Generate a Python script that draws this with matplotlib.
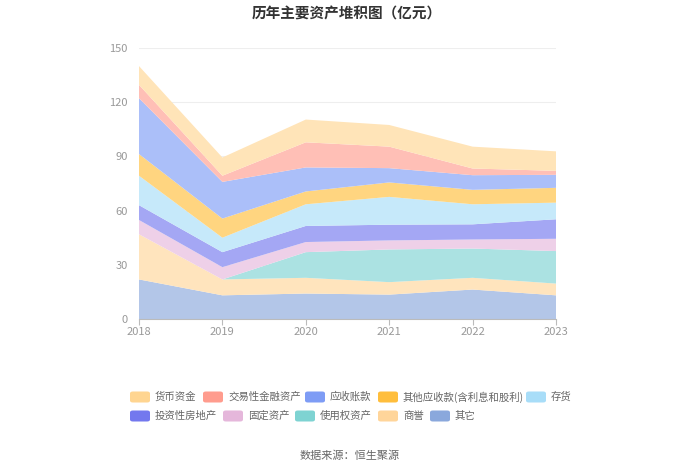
import matplotlib
matplotlib.use("Agg")
import matplotlib.pyplot as plt
from matplotlib.colors import to_rgb
from matplotlib.patches import FancyBboxPatch
import numpy as np

plt.rcParams['font.family'] = ['Noto Sans CJK SC', 'DejaVu Sans']

years = ['2018', '2019', '2020', '2021', '2022', '2023']

# values in 亿元, bottom of the stack first
qita = [21.9, 13.1, 14.1, 13.5, 16.3, 13.1]            # 其它
shangyu = [25.0, 8.8, 8.7, 6.9, 6.5, 6.5]              # 商誉
shiyongquan = [0.0, 0.0, 14.2, 18.1, 16.2, 18.0]       # 使用权资产
guding = [7.9, 6.8, 5.6, 5.0, 5.0, 6.8]                # 固定资产
touzi_fdc = [8.2, 8.3, 8.9, 8.7, 8.4, 10.8]            # 投资性房地产
cunhuo = [16.3, 8.0, 12.0, 15.4, 11.1, 9.2]            # 存货
qita_ys = [12.0, 10.6, 7.1, 8.0, 8.0, 8.2]             # 其他应收款(含利息和股利)
yingshou = [30.9, 20.3, 13.3, 7.9, 8.1, 7.2]           # 应收账款
jiaoyi = [7.4, 3.4, 13.9, 11.9, 3.7, 2.2]              # 交易性金融资产
huobi = [10.4, 10.1, 12.6, 12.0, 12.1, 10.8]           # 货币资金

series = [qita, shangyu, shiyongquan, guding, touzi_fdc,
          cunhuo, qita_ys, yingshou, jiaoyi, huobi]
colors = ['#8AA8DC', '#FFD59A', '#7ED3D2', '#E5B7DB', '#7378EE',
          '#A8DDF8', '#FFBE3C', '#7E9CF5', '#FF9C8E', '#FFD591']

legend_rows = [
    [('货币资金', '#FFD591'), ('交易性金融资产', '#FF9C8E'), ('应收账款', '#7E9CF5'),
     ('其他应收款(含利息和股利)', '#FFBE3C'), ('存货', '#A8DDF8')],
    [('投资性房地产', '#7378EE'), ('固定资产', '#E5B7DB'), ('使用权资产', '#7ED3D2'),
     ('商誉', '#FFD59A'), ('其它', '#8AA8DC')],
]
legend_x = [[130, 203, 305, 378, 526], [130, 223, 295, 378, 430]]
legend_y = [397, 416]


def lighten(c, a=0.65):
    # opaque version of colour c drawn at opacity a over white
    return tuple(a * v + (1 - a) for v in to_rgb(c))


W, H = 700, 473
fig = plt.figure(figsize=(W / 100, H / 100), dpi=100)
ax = fig.add_axes([139 / W, 1 - 319 / H, (556 - 139) / W, (319 - 48) / H])

x = np.arange(len(years))
ax.stackplot(x, *series, colors=[lighten(c) for c in colors], linewidth=0)

ax.set_xlim(0, len(years) - 1)
ax.set_ylim(0, 150)
ax.set_yticks([0, 30, 60, 90, 120, 150])
ax.set_xticks(x)
ax.set_xticklabels(years)
ax.yaxis.grid(True, color='#EEEEEE', linewidth=0.8)
ax.set_axisbelow(True)
for side in ['top', 'right', 'left']:
    ax.spines[side].set_visible(False)
ax.spines['bottom'].set_color('#BBBBBB')
ax.tick_params(axis='y', length=0, labelsize=8, labelcolor='#999999', pad=8)
ax.tick_params(axis='x', length=4, color='#BBBBBB', labelsize=8, labelcolor='#999999', pad=2)

fig.text(347 / W, 1 - 13 / H, '历年主要资产堆积图（亿元）', ha='center', va='center',
         fontsize=10.5, fontweight='bold', color='#333333')

# legend drawn by hand to keep the flowing layout
for row, xs, yy in zip(legend_rows, legend_x, legend_y):
    for (label, col), xx in zip(row, xs):
        fig.patches.append(FancyBboxPatch(
            (xx / W, 1 - (yy + 5.5) / H), 20 / W, 11 / H,
            boxstyle='round,pad=0,rounding_size=0.004',
            transform=fig.transFigure, facecolor=col, edgecolor='none'))
        fig.text((xx + 25) / W, 1 - yy / H, label, ha='left', va='center',
                 fontsize=7.5, color='#666666')

fig.text(350 / W, 1 - 456 / H, '数据来源：恒生聚源', ha='center', va='center',
         fontsize=8, color='#666666')

fig.savefig('out.png', dpi=100)
